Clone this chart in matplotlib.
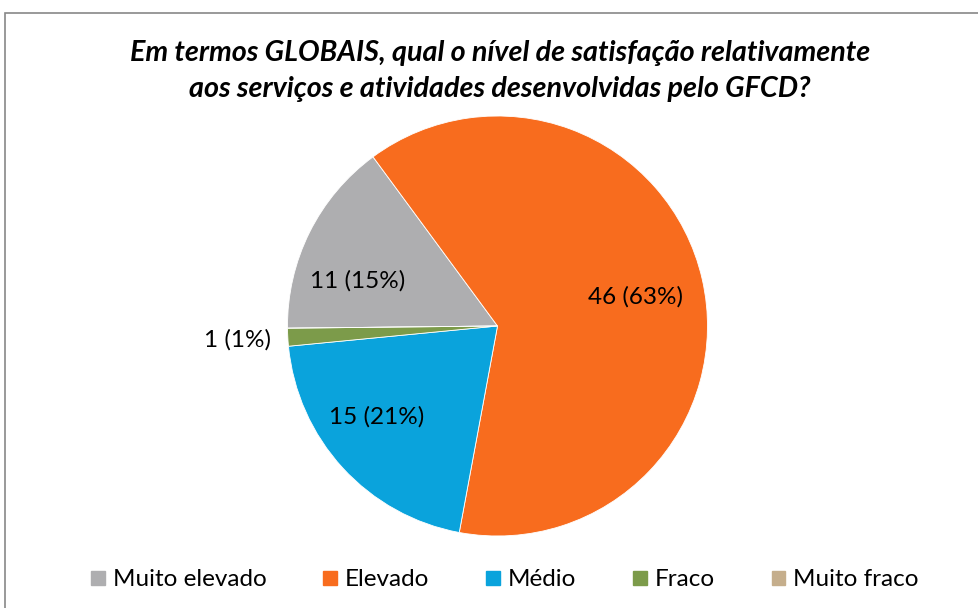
import numpy as np
import matplotlib
matplotlib.use('Agg')
import matplotlib.pyplot as plt
from matplotlib.patches import Rectangle

plt.rcParams['font.family'] = ['Lato', 'DejaVu Sans']

categories = ['Muito elevado', 'Elevado', 'Médio', 'Fraco', 'Muito fraco']
counts = [11, 46, 15, 1, 0]
percent_labels = ['15%', '63%', '21%', '1%', '0%']
colors = ['#AEAEB0', '#F86C1E', '#0AA3DC', '#7C9B4A', '#C5AE8C']
# label placement (fraction of radius, angular nudge in degrees)
label_dist = [0.70, 0.67, 0.72, 1.24, None]
label_shift = [8.5, -1.0, -5.8, 0.0, 0.0]

W, H = 979, 608
fig = plt.figure(figsize=(W / 100, H / 100), dpi=100)

# chart border (cut off on right and bottom, like the source)
fig.patches.append(Rectangle((5 / W, -0.1), 1.2, (H - 13) / H + 0.1, transform=fig.transFigure,
                             fill=False, edgecolor='#888888', linewidth=1.2))

fig.text(500 / W, 1 - 53 / H, 'Em termos GLOBAIS, qual o nível de satisfação relativamente',
         ha='center', va='center', fontsize=20.7, fontweight='bold', fontstyle='italic')
fig.text(500 / W, 1 - 89 / H, 'aos serviços e atividades desenvolvidas pelo GFCD?',
         ha='center', va='center', fontsize=20.7, fontweight='bold', fontstyle='italic')

cx, cy, r = 497.5, 326, 210
ax = fig.add_axes([(cx - r) / W, (H - cy - r) / H, 2 * r / W, 2 * r / H])
wedges, _ = ax.pie(counts, colors=colors, startangle=180.6, counterclock=False, radius=1,
                   wedgeprops=dict(linewidth=0.6, edgecolor='white'))
ax.set_xlim(-1, 1)
ax.set_ylim(-1, 1)
ax.set_aspect('equal')
ax.axis('off')

for w, n, p, d, s in zip(wedges, counts, percent_labels, label_dist, label_shift):
    if n == 0:
        continue
    mid = np.deg2rad((w.theta1 + w.theta2) / 2 + s)
    ax.text(d * np.cos(mid), d * np.sin(mid), f'{n} ({p})', ha='center', va='center',
            fontsize=17.5, clip_on=False)

handles = [Rectangle((0, 0), 1, 1, color=c) for c in colors]
fig.legend(handles, categories, loc='center', bbox_to_anchor=(505 / W, 1 - 580 / H), ncol=5,
           frameon=False, fontsize=17.5, handlelength=0.55, handleheight=0.55,
           handletextpad=0.33, columnspacing=2.35)

fig.savefig('out.png', dpi=100)
